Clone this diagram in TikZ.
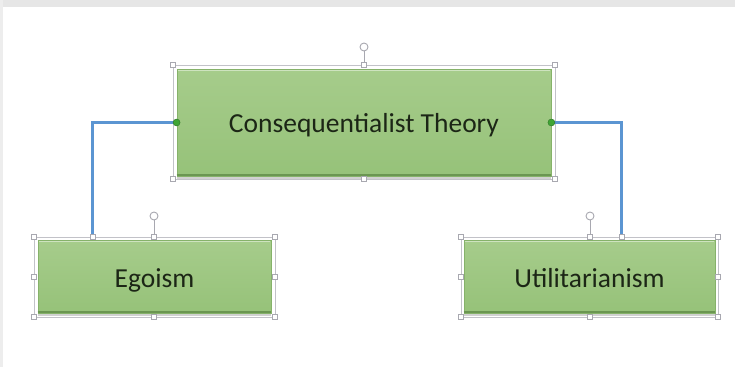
\documentclass[tikz,border=0pt]{standalone}
\usepackage{fontspec}
\setmainfont{Carlito}
\definecolor{boxtop}{HTML}{A6CC8B}
\definecolor{boxbot}{HTML}{96C279}
\definecolor{boxedge}{HTML}{86B26A}
\definecolor{boxdark}{HTML}{6B9652}
\definecolor{conncol}{HTML}{5B95D2}
\definecolor{dotcol}{HTML}{3FA535}
\definecolor{txtcol}{HTML}{1C2616}
\definecolor{selcol}{HTML}{A8A8B0}
\definecolor{bgband}{HTML}{E6E6E6}
\tikzset{
  greenbox/.style={draw=boxedge, line width=0.8pt, top color=boxtop, bottom color=boxbot,
    text=txtcol, font=\fontsize{27.5}{30}\selectfont, inner sep=0pt, anchor=center},
  conn/.style={draw=conncol, line width=3pt},
  handlebox/.style={draw=selcol, fill=white, line width=0.6pt, minimum size=5pt, inner sep=0pt},
  selframe/.style={draw=selcol!70, line width=0.6pt},
  rotline/.style={draw=selcol, line width=0.9pt},
  enddot/.style={circle, fill=dotcol, draw=dotcol!70!black, line width=0.4pt, minimum size=7pt, inner sep=0pt},
  darkedge/.style={draw=boxdark, line width=1.6pt},
  shadowband/.style={draw=black!18, line width=2pt},
  hilite/.style={draw=white!45!boxtop, line width=1.2pt}
}
\begin{document}
\begin{tikzpicture}[x=1pt, y=-1pt]
\useasboundingbox (0,0) rectangle (735,367);
\fill[white] (0,0) rectangle (735,367);
\fill[bgband] (0,0) rectangle (735,7);
\fill[bgband!70] (0,0) rectangle (3,367);

% boxes
\node[greenbox, minimum width=374pt, minimum height=107pt] (top) at (364,122.5) {\raisebox{-9.5pt}[0pt][0pt]{Consequentialist Theory}};
\node[greenbox, minimum width=233pt, minimum height=73pt] (ego) at (154.5,276.5) {\raisebox{-10.5pt}[0pt][0pt]{Egoism}};
\node[greenbox, minimum width=251pt, minimum height=73pt] (util) at (589.5,276.5) {\raisebox{-10.5pt}[0pt][0pt]{Utilitarianism}};

% highlight and dark bottom edges
\foreach \n in {top,ego,util}{
  \draw[hilite] ([xshift=1.5pt,yshift=-1.8pt]\n.north west) -- ([xshift=-1.5pt,yshift=-1.8pt]\n.north east);
  \draw[darkedge] ([yshift=1.2pt]\n.south west) -- ([yshift=1.2pt]\n.south east);
  \draw[shadowband] ([yshift=-1.2pt]\n.south west) -- ([yshift=-1.2pt]\n.south east);
}

% selection frames
\coordinate (tf1) at (173,65);  \coordinate (tf2) at (555,179);
\coordinate (ef1) at (34,237);  \coordinate (ef2) at (275,317);
\coordinate (uf1) at (461,237); \coordinate (uf2) at (718,317);
\draw[selframe] (tf1) rectangle (tf2);
\draw[selframe] (ef1) rectangle (ef2);
\draw[selframe] (uf1) rectangle (uf2);

% connectors
\coordinate (egoend) at (92.5,237);
\coordinate (utilend) at (621.5,237);
\draw[conn] (top.west) -| (egoend);
\draw[conn] (top.east) -| (utilend);

% rotation handles
\coordinate (rt) at (364,65);  \coordinate (rtc) at (364,47);
\coordinate (re) at (154,237); \coordinate (rec) at (154,216);
\coordinate (ru) at (590,237); \coordinate (ruc) at (590,216);
\foreach \a/\c in {rt/rtc, re/rec, ru/ruc}{
  \draw[rotline] (\a) -- ([yshift=4pt]\c);
  \draw[rotline, fill=white] (\c) circle (4pt);
}

% handles top
\foreach \p in {(173,65),(364,65),(555,65),(173,179),(364,179),(555,179)}
  \node[handlebox] at \p {};
% handles egoism
\foreach \p in {(34,237),(154,237),(275,237),(34,277),(275,277),(34,317),(154,317),(275,317)}
  \node[handlebox] at \p {};
\node[handlebox] (egoh) at (egoend) {};
% handles utilitarianism
\foreach \p in {(461,237),(590,237),(718,237),(461,277),(718,277),(461,317),(590,317),(718,317)}
  \node[handlebox] at \p {};
\node[handlebox] (utilh) at (utilend) {};

% connector end dots
\node[enddot] (d1) at (top.west) {};
\node[enddot] (d2) at (top.east) {};
\end{tikzpicture}
\end{document}
